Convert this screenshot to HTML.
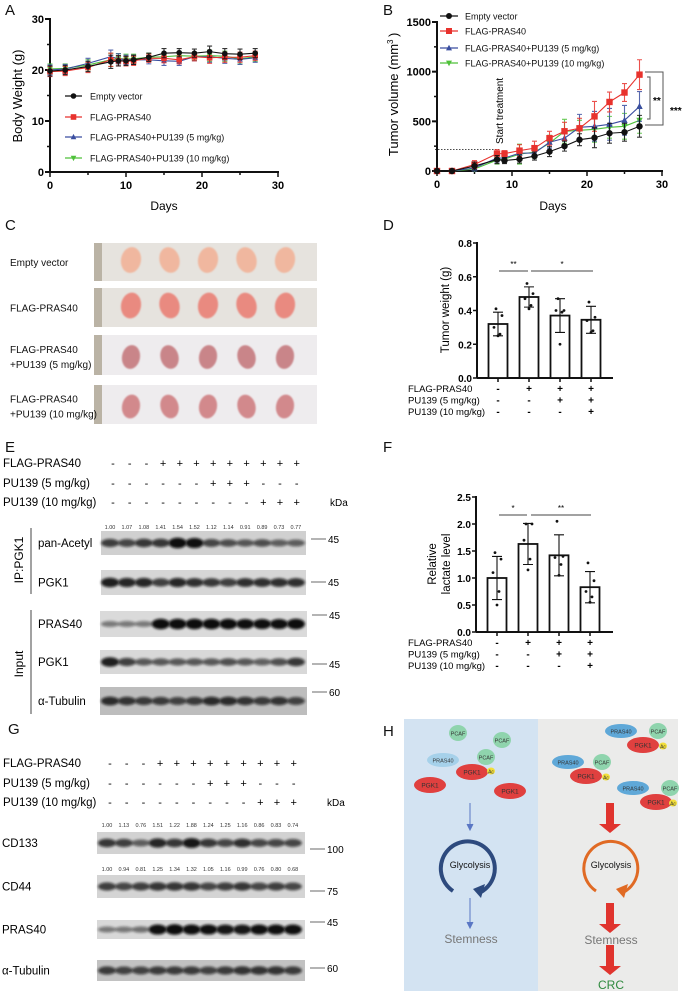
<!DOCTYPE html>
<html><head><meta charset="utf-8"><style>
html,body{margin:0;padding:0;background:#fff}
svg{display:block;font-family:"Liberation Sans",Arial,sans-serif}
</style></head><body>
<svg id="fig" width="685" height="995" viewBox="0 0 685 995" xmlns="http://www.w3.org/2000/svg">
<defs>
<filter id="blur1" x="-20%" y="-50%" width="140%" height="200%"><feGaussianBlur stdDeviation="1.3"/></filter>
<filter id="blur2"><feGaussianBlur stdDeviation="0.8"/></filter>
</defs>
<g id="panelLabels" font-size="15" fill="#111">
<text x="5" y="15">A</text>
<text x="383" y="15">B</text>
<text x="5" y="230">C</text>
<text x="383" y="230">D</text>
<text x="5" y="452">E</text>
<text x="383" y="452">F</text>
<text x="8" y="734">G</text>
<text x="383" y="736">H</text>
</g>
<g id="gA"></g>
<g id="gB"></g>
<g id="gC"></g>
<g id="gD"></g>
<g id="gE"></g>
<g id="gF"></g>
<g id="gG"></g>
<g id="gH"></g>
</svg>
<script>
// ---- Chart data ----
const daysA = [0,2,5,8,9,10,11,13,15,17,19,21,23,25,27];
const weightEmpty = [19.8,20,20.7,21.6,21.8,21.8,22,22.5,23.3,23.4,23.3,23.6,23.2,23.1,23.3];
const weightFlag  = [19.7,19.8,20.5,22,21.8,21.7,21.8,22.3,22.3,22,22.6,22.4,22.5,22.5,22.8];
const weightPu5   = [20,20.2,21.3,22.6,22.2,22,22,22,21.8,21.7,22.6,22.6,22.3,22.1,22.4];
const weightPu10  = [20.2,20.3,21,22,22.2,22.2,22.2,22.5,22.6,22.8,22.7,22.8,22.7,22.2,22.6];
const weightErr   = [1,0.9,1,1.3,1,0.9,0.9,0.8,0.9,0.8,0.8,1.1,1,1,0.9];
const ticksA_y = [0,10,20,30];
const ticksA_x = [0,10,20,30];

const daysB = [0,2,5,8,9,11,13,15,17,19,21,23,25,27];
const volEmpty = [0,0,50,115,105,120,150,195,250,315,335,380,390,450];
const volFlag  = [0,0,65,175,175,205,230,330,400,430,550,695,790,970];
const volPu5   = [0,0,30,130,130,180,180,290,330,440,450,470,510,650];
const volPu10  = [0,0,20,110,120,170,190,280,400,410,420,440,450,510];
const volErrEmpty = [0,0,40,40,30,40,40,50,50,60,100,100,90,110];
const volErrFlag  = [0,0,40,40,30,60,70,70,90,100,150,100,90,150];
const volErrPu5 = [0,0,30,40,30,50,40,60,70,130,150,160,150,150];
const volErrPu10 = [0,0,20,40,30,100,60,80,120,100,130,110,130,130];
const ticksB_y = [0,500,1000,1500];
const ticksB_x = [0,10,20,30];

const groupsD = ['EV','FLAG','PU5','PU10'];
const weightMeans = [0.32,0.48,0.37,0.345];
const weightSD = [0.07,0.06,0.10,0.08];
const weightPts = [[0.41,0.37,0.3,0.26,0.25],[0.56,0.5,0.47,0.43,0.41],[0.47,0.4,0.4,0.39,0.2],[0.45,0.36,0.34,0.28,0.27]];
const ticksD_y = [0,0.2,0.4,0.6,0.8];

const lactMeans = [1.0,1.63,1.42,0.83];
const lactSD = [0.4,0.38,0.38,0.29];
const lactPts = [[1.47,1.35,1.1,0.75,0.5],[2.0,2.0,1.7,1.35,1.15],[2.05,1.4,1.38,1.25,1.05],[1.28,0.95,0.75,0.65,0.55]];
const ticksF_y = [0,0.5,1.0,1.5,2.0,2.5];

const condFlag = ['-','-','-','+','+','+','+','+','+','+','+','+'];
const condPu5  = ['-','-','-','-','-','-','+','+','+','-','-','-'];
const condPu10 = ['-','-','-','-','-','-','-','-','-','+','+','+'];
const quantAcetyl = ['1.00','1.07','1.08','1.41','1.54','1.52','1.12','1.14','0.91','0.89','0.73','0.77'];
const quantCD133 = ['1.00','1.13','0.76','1.51','1.22','1.88','1.24','1.25','1.16','0.86','0.83','0.74'];
const quantCD44 = ['1.00','0.94','0.81','1.25','1.34','1.32','1.05','1.16','0.99','0.76','0.80','0.68'];

const NS='http://www.w3.org/2000/svg';
function mk(parent, tag, attrs, txt){const e=document.createElementNS(NS,tag);for(const k in attrs)e.setAttribute(k,attrs[k]);if(txt!==undefined)e.textContent=txt;parent.appendChild(e);return e;}

function lineChart(g, cfg){
  const X=v=>cfg.x0+(v-cfg.xmin)/(cfg.xmax-cfg.xmin)*(cfg.x1-cfg.x0);
  const Y=v=>cfg.y0-(v-cfg.ymin)/(cfg.ymax-cfg.ymin)*(cfg.y0-cfg.y1);
  let a=mk(g,'line',{x1:cfg.x0,y1:cfg.y0,x2:cfg.x0,y2:cfg.y1-1,stroke:'#111','stroke-width':2});
  
  a=mk(g,'line',{x1:cfg.x0-1,y1:cfg.y0,x2:cfg.x1+1,y2:cfg.y0,stroke:'#111','stroke-width':2});
  
  cfg.ty.forEach(t=>{
    let l=mk(g,'line',{x1:cfg.x0-5,x2:cfg.x0,y1:Y(t),y2:Y(t),stroke:'#111','stroke-width':2});
    
    let tx=mk(g,'text',{x:cfg.x0-6,y:Y(t)+4,'text-anchor':'end','font-size':11,'font-weight':'bold'},t);
    
  });
  for(let t=cfg.ymin;t<=cfg.ymax;t+=cfg.minorY){let l=mk(g,'line',{x1:cfg.x0-3,x2:cfg.x0,y1:Y(t),y2:Y(t),stroke:'#111','stroke-width':1.5});}
  for(let t=cfg.xmin;t<=cfg.xmax;t+=5){let l=mk(g,'line',{x1:X(t),x2:X(t),y1:cfg.y0,y2:cfg.y0+(t%10===0?5:3),stroke:'#111','stroke-width':1.5});}
  cfg.tx.forEach(t=>{let tx=mk(g,'text',{x:X(t),y:cfg.y0+17,'text-anchor':'middle','font-size':11,'font-weight':'bold'},t);});
  cfg.series.forEach(s=>{
    const sg=mk(g,'g',{});
    
    s.vals.forEach((v,i)=>{const e=s.err[i];if(e>0){const x=X(cfg.days[i]);
      let eb=mk(sg,'path',{d:`M${x},${Y(v+e)}V${Y(v-e)}M${x-2.5},${Y(v+e)}h5M${x-2.5},${Y(v-e)}h5`,stroke:s.color,'stroke-width':1.1,fill:'none',opacity:0.85});
      }});
    let p=mk(sg,'polyline',{points:s.vals.map((v,i)=>X(cfg.days[i])+','+Y(v)).join(' '),fill:'none',stroke:s.color,'stroke-width':1.1});
    
    s.vals.forEach((v,i)=>{let m=marker(sg,s.shape,X(cfg.days[i]),Y(v),s.color,cfg.ms);});
  });
  return {X,Y};
}
function marker(g,shape,x,y,c,r){
  if(shape==='circle')return mk(g,'circle',{cx:x,cy:y,r:r,fill:c});
  if(shape==='square')return mk(g,'rect',{x:x-r,y:y-r,width:2*r,height:2*r,fill:c});
  if(shape==='up')return mk(g,'polygon',{points:`${x},${y-r*1.1} ${x-r},${y+r*0.8} ${x+r},${y+r*0.8}`,fill:c});
  return mk(g,'polygon',{points:`${x},${y+r*1.1} ${x-r},${y-r*0.8} ${x+r},${y-r*0.8}`,fill:c});
}
function legend(g,items,x0,x1,tx,ys,fs,ms){
  items.forEach((it,i)=>{
    const lg=mk(g,'g',{});
    
    mk(lg,'line',{x1:x0,x2:x1,y1:ys[i],y2:ys[i],stroke:it.color,'stroke-width':1.2});
    marker(lg,it.shape,(x0+x1)/2,ys[i],it.color,ms);
    mk(lg,'text',{x:tx,y:ys[i]+3.5,'font-size':fs,fill:'#111'},it.label);
  });
}
const C_BLK='#111', C_RED='#e8322d', C_BLU='#3a4ea0', C_GRN='#4fc13a';
const legItems=[{label:'Empty vector',color:C_BLK,shape:'circle'},{label:'FLAG-PRAS40',color:C_RED,shape:'square'},{label:'FLAG-PRAS40+PU139 (5 mg/kg)',color:C_BLU,shape:'up'},{label:'FLAG-PRAS40+PU139 (10 mg/kg)',color:C_GRN,shape:'down'}];

const gA=document.getElementById('gA');
lineChart(gA,{x0:50,x1:278,y0:172,y1:19,xmin:0,xmax:30,ymin:0,ymax:30,minorY:5,ty:ticksA_y,tx:ticksA_x,days:daysA,ms:2.8,
 series:[{name:'pu10',vals:weightPu10,err:weightErr,color:C_GRN,shape:'down'},{name:'pu5',vals:weightPu5,err:weightErr,color:C_BLU,shape:'up'},{name:'flag',vals:weightFlag,err:weightErr,color:C_RED,shape:'square'},{name:'empty',vals:weightEmpty,err:weightErr,color:C_BLK,shape:'circle'}]});
legend(gA,legItems,65,82,90,[96,117,137,158],9,2.8);
let tA=mk(gA,'text',{x:0,y:0,transform:'translate(22,96) rotate(-90)','text-anchor':'middle','font-size':13},'Body Weight (g)');

tA=mk(gA,'text',{x:164,y:210,'text-anchor':'middle','font-size':12},'Days');


const gB=document.getElementById('gB');
mk(gB,'line',{x1:435,x2:500,y1:149.5,y2:149.5,stroke:'#111','stroke-width':0.8,'stroke-dasharray':'1.5,1.5'});
lineChart(gB,{x0:437,x1:662,y0:171,y1:22,xmin:0,xmax:30,ymin:0,ymax:1500,minorY:250,ty:ticksB_y,tx:ticksB_x,days:daysB,ms:3.2,
 series:[{name:'pu10',vals:volPu10,err:volErrPu10,color:C_GRN,shape:'down'},{name:'pu5',vals:volPu5,err:volErrPu5,color:C_BLU,shape:'up'},{name:'flag',vals:volFlag,err:volErrFlag,color:C_RED,shape:'square'},{name:'empty',vals:volEmpty,err:volErrEmpty,color:C_BLK,shape:'circle'}]});
legend(gB,legItems,440,458,465,[16,31,48,63],9,3);
let tB=mk(gB,'text',{x:0,y:0,transform:'translate(398,100) rotate(-90)','text-anchor':'middle','font-size':13},'Tumor volume (mm');

tB=mk(gB,'text',{x:0,y:0,transform:'translate(393,44) rotate(-90)','font-size':8},'3');

tB=mk(gB,'text',{x:0,y:0,transform:'translate(398,37) rotate(-90)','font-size':13},')');

tB=mk(gB,'text',{x:0,y:0,transform:'translate(503,144) rotate(-90)','font-size':10},'Start treatment');

tB=mk(gB,'text',{x:553,y:210,'text-anchor':'middle','font-size':12},'Days');

tB=mk(gB,'path',{d:'M645,72H663V125H645M647,77H650V119H647',fill:'none',stroke:'#555','stroke-width':1});

tB=mk(gB,'text',{x:653,y:104,'font-size':10,'font-weight':'bold'},'**');

tB=mk(gB,'text',{x:670,y:114,'font-size':10,'font-weight':'bold'},'***');


const gC=document.getElementById('gC');
const rowsC=[{y:243,h:38,l:['Empty vector'],col:'#f0b79f',dk:false},{y:288,h:39,l:['FLAG-PRAS40'],col:'#e98a80',dk:false},{y:335,h:40,l:['FLAG-PRAS40','+PU139 (5 mg/kg)'],col:'#c98589',dk:true},{y:385,h:39,l:['FLAG-PRAS40','+PU139 (10 mg/kg)'],col:'#d2898c',dk:true}];
rowsC.forEach((r,ri)=>{
  const rg=mk(gC,'g',{});
  
  mk(rg,'rect',{x:94,y:r.y,width:223,height:r.h,fill:r.dk?'#eeecee':'#e6e3de'});
  mk(rg,'rect',{x:94,y:r.y,width:8,height:r.h,fill:'#bab3a5'});
  for(let k=0;k<5;k++){
    const cx=131+k*38.5, cy=r.y+r.h/2+(r.dk?2:-2);
    mk(rg,'ellipse',{cx:cx,cy:cy,rx:r.dk?9:10,ry:r.dk?12:13,fill:r.col,filter:'url(#blur2)',transform:`rotate(${(k%2?-15:10)} ${cx} ${cy})`});
  }
  r.l.forEach((s,i)=>{mk(rg,'text',{x:10,y:r.y+(r.l.length===1?r.h/2+4:r.h/2-2+i*15),'font-size':10,fill:'#111'},s);});
});

function barChart(g,cfg){
  const Y=v=>cfg.y0-v/cfg.ymax*(cfg.y0-cfg.y1);
  let a=mk(g,'line',{x1:cfg.x0,y1:cfg.y0,x2:cfg.x0,y2:cfg.y1-1,stroke:'#111','stroke-width':2});
  
  a=mk(g,'line',{x1:cfg.x0,y1:cfg.y0,x2:cfg.xend,y2:cfg.y0,stroke:'#111','stroke-width':2});
  
  cfg.ticks.forEach(t=>{
    let l=mk(g,'line',{x1:cfg.x0-4,x2:cfg.x0,y1:Y(t),y2:Y(t),stroke:'#111','stroke-width':1.5});
    
    let tx=mk(g,'text',{x:cfg.x0-5,y:Y(t)+4,'text-anchor':'end','font-size':10,'font-weight':'bold'},t.toFixed(1));
    
  });
  cfg.means.forEach((m,i)=>{
    const cx=cfg.cx0+i*cfg.dx;
    let b=mk(g,'rect',{x:cx-9.5,y:Y(m),width:19,height:cfg.y0-Y(m),fill:'#fff',stroke:'#111','stroke-width':1.8});
    
    let tk=mk(g,'line',{x1:cx,x2:cx,y1:cfg.y0,y2:cfg.y0+4,stroke:'#111','stroke-width':1.5});
    
    const sd=cfg.sd[i];
    let e=mk(g,'path',{d:`M${cx},${Y(m+sd)}V${Y(m-sd)}M${cx-5},${Y(m+sd)}h10M${cx-5},${Y(m-sd)}h10`,stroke:'#111','stroke-width':1.1,fill:'none'});
    
    cfg.pts[i].forEach((p,j)=>{
      const px=cx+[-1,2,-2,1,0][j]*2;
      let d=mk(g,'circle',{cx:px,cy:Y(p),r:1.4,fill:'#111'});
      
    });
  });
  const rows=[['FLAG-PRAS40',condFlag],['PU139 (5 mg/kg)',condPu5],['PU139 (10 mg/kg)',condPu10]];
  const condTab=[['-','+','+','+'],['-','-','+','+'],['-','-','-','+']];
  rows.forEach((r,ri)=>{
    const y=cfg.y0+14+ri*11.5;
    let t=mk(g,'text',{x:cfg.lx,y:y,'font-size':9.5},r[0]);
    
    condTab[ri].forEach((c,i)=>{let s=mk(g,'text',{x:cfg.cx0+i*cfg.dx,y:y,'font-size':10,'text-anchor':'middle','font-weight':'bold'},c);});
  });
  cfg.sig.forEach(s=>{
    let l=mk(g,'line',{x1:s[0],x2:s[1],y1:cfg.sigY,y2:cfg.sigY,stroke:'#444','stroke-width':0.9});
    
    let t=mk(g,'text',{x:(s[0]+s[1])/2,y:cfg.sigY-4,'font-size':8,'text-anchor':'middle'},s[2]);
    
  });
  return Y;
}
const gD=document.getElementById('gD');
barChart(gD,{x0:477,y0:378,y1:243,ymax:0.8,xend:613,cx0:498,dx:31,means:weightMeans,sd:weightSD,pts:weightPts,ticks:ticksD_y,lx:408,sigY:271,sig:[[499,528,'**'],[531,593,'*']]});
let tD=mk(gD,'text',{x:0,y:0,transform:'translate(449,310) rotate(-90)','text-anchor':'middle','font-size':11.5},'Tumor weight (g)');


const gF=document.getElementById('gF');
barChart(gF,{x0:476,y0:632,y1:497,ymax:2.5,xend:613,cx0:497,dx:31,means:lactMeans,sd:lactSD,pts:lactPts,ticks:ticksF_y,lx:408,sigY:515,sig:[[499,527,'*'],[531,591,'**']]});
let tF=mk(gF,'text',{x:0,y:0,transform:'translate(436,564) rotate(-90)','text-anchor':'middle','font-size':11.5},'Relative');

tF=mk(gF,'text',{x:0,y:0,transform:'translate(450,564) rotate(-90)','text-anchor':'middle','font-size':11.5},'lactate level');


function header(g,lx0,dx,ys,kx){
  const rows=[['FLAG-PRAS40',condFlag],['PU139 (5 mg/kg)',condPu5],['PU139 (10 mg/kg)',condPu10]];
  rows.forEach((r,ri)=>{
    let t=mk(g,'text',{x:3,y:ys[ri]+4,'font-size':11.5},r[0]);
    
    r[1].forEach((c,i)=>{let s=mk(g,'text',{x:lx0+i*dx,y:ys[ri]+4,'font-size':11,'text-anchor':'middle'},c);});
  });
  let k=mk(g,'text',{x:kx,y:ys[2]+4,'font-size':10},'kDa');
  
}
function blot(g,name,x,y,w,h,lx0,dx,inten,label,labx,bg,mk2){
  const bgp=mk(g,'g',{});
  
  mk(bgp,'rect',{x:x,y:y,width:w,height:h,fill:bg});
  inten.forEach((v,i)=>{mk(bgp,'ellipse',{cx:lx0+i*dx,cy:y+h/2,rx:9,ry:2.5+v*3.2,fill:'#0a0a0a',opacity:Math.min(1,0.35+v*0.8),filter:'url(#blur1)'});});
  let t=mk(g,'text',{x:labx,y:y+h/2+4,'font-size':11.5},label);
  
  if(mk2){let m=mk(g,'line',{x1:x+w+5,x2:x+w+20,y1:mk2[0],y2:mk2[0],stroke:'#444','stroke-width':0.8});
   let mt=mk(g,'text',{x:x+w+22,y:mk2[0]+4,'font-size':10},mk2[1]);}
}
function quant(g,arr,lx0,dx,y){arr.forEach((q,i)=>{let t=mk(g,'text',{x:lx0+i*dx,y:y,'font-size':5.5,'text-anchor':'middle',fill:'#333'},q);});}

const gE=document.getElementById('gE');
header(gE,113,16.7,[463,483,502],330);
quant(gE,quantAcetyl,110,16.9,529);
blot(gE,'pan-acetyl',101,531,205,24,110,16.9,[0.5,0.45,0.55,0.55,0.85,0.8,0.45,0.4,0.35,0.4,0.3,0.3],'pan-Acetyl',38,'#d0d0d0',[539,'45']);
blot(gE,'ip-pgk1',101,570,205,25,110,16.9,[0.7,0.65,0.65,0.5,0.65,0.6,0.55,0.5,0.6,0.6,0.6,0.6],'PGK1',38,'#d6d6d6',[582,'45']);
blot(gE,'pras40',100,611,207,26,110,16.9,[0.15,0.15,0.15,0.85,0.85,0.85,0.85,0.85,0.8,0.8,0.8,0.85],'PRAS40',38,'#dadada',[615,'45']);
blot(gE,'input-pgk1',100,650,207,24,110,16.9,[0.7,0.5,0.35,0.35,0.35,0.35,0.35,0.4,0.35,0.3,0.4,0.55],'PGK1',38,'#d8d8d8',[664,'45']);
blot(gE,'tubulin',100,687,207,28,110,16.9,[0.6,0.55,0.5,0.5,0.45,0.5,0.6,0.6,0.55,0.5,0.55,0.45],'α-Tubulin',38,'#bdbdbd',[692,'60']);
let br=mk(gE,'path',{d:'M31,528V594M31,610V714',stroke:'#444','stroke-width':1,fill:'none'});

br=mk(gE,'text',{x:0,y:0,transform:'translate(23,560) rotate(-90)','text-anchor':'middle','font-size':12},'IP:PGK1');

br=mk(gE,'text',{x:0,y:0,transform:'translate(23,664) rotate(-90)','text-anchor':'middle','font-size':12},'Input');


const gG=document.getElementById('gG');
header(gG,110,16.7,[763,783,802],327);
quant(gG,quantCD133,107,16.9,827);
blot(gG,'cd133',97,832,208,22,107,16.9,[0.55,0.5,0.3,0.65,0.55,0.75,0.55,0.45,0.6,0.45,0.45,0.45],'CD133',2,'#d2d2d2',[849,'100']);
quant(gG,quantCD44,107,16.9,871);
blot(gG,'cd44',97,875,208,23,107,16.9,[0.5,0.45,0.5,0.55,0.55,0.55,0.45,0.5,0.55,0.45,0.5,0.45],'CD44',2,'#d4d4d4',[891,'75']);
blot(gG,'pras40-g',97,920,208,19,107,16.9,[0.15,0.15,0.2,0.8,0.85,0.8,0.8,0.75,0.75,0.8,0.8,0.8],'PRAS40',2,'#d8d8d8',[922,'45']);
blot(gG,'tubulin-g',97,960,208,21,107,16.9,[0.5,0.45,0.45,0.5,0.5,0.5,0.45,0.5,0.55,0.55,0.55,0.5],'α-Tubulin',2,'#c2c2c2',[968,'60']);

const gH=document.getElementById('gH');
let hb=mk(gH,'rect',{x:404,y:719,width:134,height:272,fill:'#d3e3f2'});
hb=mk(gH,'rect',{x:538,y:719,width:140,height:272,fill:'#ebebea'});
function blob(cx,cy,rx,ry,fill,txt,fs){const bg=mk(gH,'g',{});
 mk(bg,'ellipse',{cx:cx,cy:cy,rx:rx,ry:ry,fill:fill});mk(bg,'text',{x:cx,y:cy+2.5,'font-size':fs||6.5,'text-anchor':'middle',fill:'#333'},txt);}
const R='#e0403f',G='#8fd4ad',B='#5fa8d8',LB='#a6d1ea',Y='#f2de3a';
blob(458,733,9,8,G,'PCAF',5.5);blob(502,740,9,8,G,'PCAF',5.5);
blob(443,760,16,7,LB,'PRAS40',5.5);blob(486,757,9,8,G,'PCAF',5.5);
blob(472,772,16,8,R,'PGK1');blob(491,771,4,3.5,Y,'Ac',5);
blob(430,785,16,8,R,'PGK1');blob(510,791,16,8,R,'PGK1');
blob(621,731,16,7,B,'PRAS40',5.5);blob(658,731,9,8,G,'PCAF',5.5);blob(643,745,16,8,R,'PGK1');blob(663,746,4,3.5,Y,'Ac',5);
blob(568,762,16,7,B,'PRAS40',5.5);blob(602,762,9,8,G,'PCAF',5.5);blob(586,776,16,8,R,'PGK1');blob(606,777,4,3.5,Y,'Ac',5);
blob(633,788,16,7,B,'PRAS40',5.5);blob(670,788,9,8,G,'PCAF',5.5);blob(656,802,16,8,R,'PGK1');blob(673,803,4,3.5,Y,'Ac',5);
let ar=mk(gH,'path',{d:'M470,803V828M467,824l3,6l3,-6M470,898V926M467,922l3,6l3,-6',stroke:'#5a77c4','stroke-width':1,fill:'#5a77c4'});
ar=mk(gH,'path',{d:'M453,891A27,27 0 1 1 479,893',fill:'none',stroke:'#2d4a7e','stroke-width':4});
mk(gH,'polygon',{points:'473,889 485,884 481,898',fill:'#2d4a7e'});
ar=mk(gH,'path',{d:'M596,891A27,27 0 1 1 622,893',fill:'none',stroke:'#e06a24','stroke-width':3});
mk(gH,'polygon',{points:'616,889 628,884 624,898',fill:'#e06a24'});
function redArrow(x,y1,y2){const a=mk(gH,'polygon',{points:`${x-4},${y1} ${x+4},${y1} ${x+4},${y2-9} ${x+11},${y2-9} ${x},${y2} ${x-11},${y2-9} ${x-4},${y2-9}`,fill:'#e0342e'});}
redArrow(610,803,833);redArrow(610,903,933);redArrow(610,945,975);
[['Glycolysis',470,868,9,'#111','glycolysis-label'],['Stemness',471,943,12,'#777','stemness-label'],['Glycolysis',611,868,9,'#111','glycolysis-label-2'],['Stemness',611,944,12,'#777','stemness-label-2'],['CRC',611,989,12,'#2e8a3e','crc-label']].forEach(t=>{
  let e=mk(gH,'text',{x:t[1],y:t[2],'font-size':t[3],fill:t[4],'text-anchor':'middle'},t[0]);
  
});
</script>
</body></html>
